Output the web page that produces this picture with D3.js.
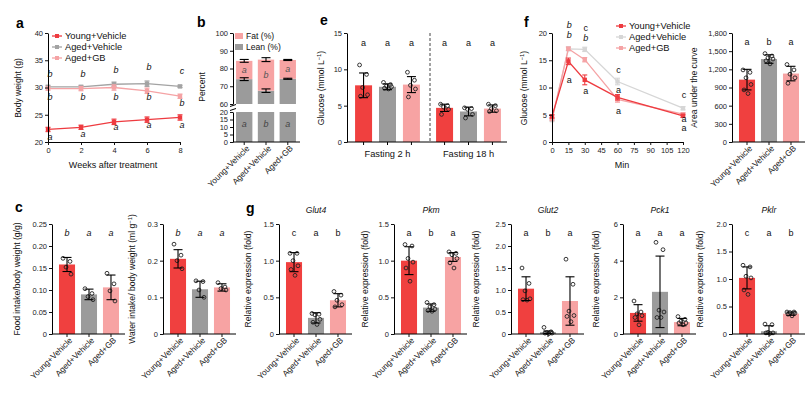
<!DOCTYPE html>
<html><head><meta charset="utf-8">
<script src="https://cdn.jsdelivr.net/npm/d3@7"></script>
<style>
body{margin:0;background:#fff}
svg{font-family:"Liberation Sans",Arial,sans-serif;color:#111}
.tick text{font-size:7.5px;fill:#222}
.lab{font-size:8.6px;fill:#111}
.let{font-size:9px;fill:#111}
.pl{font-size:14px;font-weight:bold;fill:#000}
</style></head><body>
<svg id="fig" width="812" height="394"></svg>
<script>
const groups = ["Young+Vehicle", "Aged+Vehicle", "Aged+GB"];
const colors = ["#f0403f", "#9b9b9b", "#f7a3a3"];
const lineColors = ["#ee3b40", "#a3a3a3", "#f5a3a5"];
const fColors = ["#ee3b40", "#d6d6d6", "#f5a3a5"];

// a: body weight
const weeks = [0, 2, 4, 6, 8];
const bwMean = [[22.3, 22.7, 23.7, 24.1, 24.5], [30.1, 30.1, 30.6, 30.7, 30.2], [29.8, 29.8, 30.0, 29.4, 28.4]];
const bwErr = [[0.4, 0.4, 0.5, 0.5, 0.5], [0.3, 0.3, 0.4, 0.5, 0.2], [0.3, 0.4, 0.5, 0.5, 0.4]];
const bwLetters = [
  {t: 0, v: 32.5, s: "b"}, {t: 2, v: 32.5, s: "b"}, {t: 4, v: 33.2, s: "b"}, {t: 6, v: 33.8, s: "b"}, {t: 8, v: 33.0, s: "c"},
  {t: 0, v: 28.3, s: "b"}, {t: 2, v: 28.3, s: "b"}, {t: 4, v: 28.3, s: "b"}, {t: 6, v: 28.3, s: "b"}, {t: 8, v: 27.2, s: "b"},
  {t: 0, v: 20.9, s: "a"}, {t: 2, v: 21.5, s: "a"}, {t: 4, v: 22.75, s: "a"}, {t: 6, v: 23.1, s: "a"}, {t: 8, v: 23.1, s: "a"}
];

// b: body composition
const leanMean = [74.0, 67.5, 74.2];
const leanErr = [0.8, 1.0, 0.3];
const totalMean = [84.3, 85.0, 84.8];
const totalErr = [0.8, 1.1, 0.3];
const bLetters = ["a", "b", "a"];

// e: fasting glucose
const fastGroups = ["Fasting 2 h", "Fasting 18 h"];
const fastMean = [[7.8, 7.6, 7.9], [4.7, 4.2, 4.6]];
const fastSd = [[1.7, 0.4, 1.1], [0.5, 0.6, 0.5]];
const fastPts = [
  [[10.6, 9.3, 7.5, 6.5, 6.3], [8.2, 7.9, 7.7, 7.6, 7.4, 7.3], [9.6, 8.5, 7.8, 7.3, 6.2]],
  [[5.2, 5.0, 4.8, 4.5, 3.8], [4.7, 4.6, 4.5, 3.8, 3.3], [5.2, 5.0, 4.6, 4.3, 4.2]]
];

// f: GTT
const gttMin = [0, 15, 30, 60, 120];
const gttMean = [[4.7, 14.8, 11.4, 8.2, 4.8], [4.0, 17.1, 17.0, 11.1, 6.2], [4.2, 17.1, 15.1, 7.8, 5.1]];
const gttErr = [[0.3, 0.6, 0.9, 0.5, 0.3], [0.2, 0.4, 0.4, 0.6, 0.3], [0.2, 0.3, 0.4, 0.5, 0.3]];
const gttLetters = [
  {t: 15, v: 21.5, s: "b"}, {t: 15, v: 19.6, s: "b"}, {t: 15, v: 11.4, s: "a"},
  {t: 30, v: 20.9, s: "c"}, {t: 30, v: 19.1, s: "b"}, {t: 30, v: 9.4, s: "a"},
  {t: 60, v: 13.2, s: "c"}, {t: 60, v: 9.6, s: "a"}, {t: 60, v: 5.7, s: "a"},
  {t: 120, v: 8.6, s: "c"}, {t: 120, v: 4.3, s: "a"}, {t: 120, v: 2.5, s: "a"}
];
const aucMean = [1030, 1370, 1130];
const aucSd = [170, 70, 120];
const aucPts = [[1190, 1150, 1060, 950, 860, 800], [1460, 1420, 1390, 1370, 1340, 1290], [1280, 1190, 1120, 1060, 970]];

// c: food / water intake
const foodMean = [0.158, 0.090, 0.106];
const foodSd = [0.016, 0.012, 0.028];
const foodPts = [[0.172, 0.165, 0.152, 0.136], [0.103, 0.092, 0.085, 0.078], [0.138, 0.114, 0.098, 0.075]];
const waterMean = [0.205, 0.122, 0.127];
const waterSd = [0.025, 0.022, 0.010];
const waterPts = [[0.245, 0.215, 0.20, 0.178], [0.145, 0.143, 0.12, 0.10], [0.14, 0.128, 0.124, 0.12]];

// g: gene expression
const genes = ["Glut4", "Pkm", "Glut2", "Pck1", "Pklr"];
const geneMean = [[0.98, 0.22, 0.46], [1.0, 0.36, 1.05], [1.03, 0.04, 0.75], [1.15, 2.3, 0.65], [1.02, 0.05, 0.37]];
const geneSd = [[0.13, 0.07, 0.09], [0.19, 0.05, 0.06], [0.27, 0.03, 0.55], [0.45, 1.95, 0.2], [0.2, 0.1, 0.03]];
const genePts = [
  [[1.1, 1.1, 1.0, 0.93, 0.88, 0.8], [0.28, 0.27, 0.26, 0.2, 0.16, 0.13], [0.58, 0.53, 0.46, 0.4, 0.37]],
  [[1.22, 1.2, 1.03, 0.98, 0.9, 0.72], [0.43, 0.4, 0.37, 0.34, 0.32, 0.31], [1.12, 1.1, 1.08, 1.03, 0.97, 0.9]],
  [[1.5, 1.15, 0.98, 0.8, 0.78, 0.77], [0.15, 0.05, 0.03, 0.02, 0.02, 0.01], [1.7, 1.13, 0.52, 0.42, 0.4, 0.28]],
  [[1.8, 1.2, 1.1, 1.0, 0.9, 0.5], [5.0, 4.6, 1.3, 1.2, 0.9, 0.9], [0.95, 0.8, 0.7, 0.6, 0.6, 0.5]],
  [[1.25, 1.22, 1.05, 1.02, 0.8, 0.72], [0.18, 0.17, 0.03, 0.02, 0.02, 0.01], [0.4, 0.4, 0.39, 0.38, 0.36, 0.33]]
];
const geneTicks = [[0, 0.5, 1.0, 1.5], [0, 0.5, 1.0, 1.5], [0, 0.5, 1.0, 1.5, 2.0, 2.5], [0, 2, 4, 6], [0, 0.5, 1.0, 1.5, 2.0]];
const geneLetters = [["c", "a", "b"], ["a", "b", "a"], ["a", "b", "a"], ["a", "a", "a"], ["c", "a", "b"]];

const svg = d3.select("#fig");
const jit = [-4, 3, -1, 4, -3, 1];
const f1 = d => d === 0 ? "0" : d3.format(".1f")(d);
const f2 = d => d === 0 ? "0" : d3.format(".2f")(d);

function yAxis(g, x, y, ticks, fmt) {
  g.append("g").attr("transform", `translate(${x},0)`)
    .call(d3.axisLeft(y).tickValues(ticks).tickFormat(fmt).tickSize(3).tickSizeOuter(0).tickPadding(2))
    .call(s => s.select(".domain").attr("stroke", "#000"));
}
function yLabel(g, x, cy, parts) {
  const t = g.append("text").attr("class", "lab").attr("text-anchor", "middle")
    .attr("transform", `translate(${x},${cy}) rotate(-90)`);
  parts.forEach(p => {
    const s = t.append("tspan").text(p[0]);
    if (p[1]) s.attr("font-size", "5.8px").attr("baseline-shift", "super");
  });
}
function panelLetter(x, y, s) {
  svg.append("text").attr("class", "pl").attr("x", x).attr("y", y).text(s);
}
function errBar(g, cx, y, lo, hi, w, col) {
  g.append("line").attr("x1", cx).attr("x2", cx).attr("y1", y(lo)).attr("y2", y(hi)).attr("stroke", col).attr("stroke-width", 1.1);
  [lo, hi].forEach(v => g.append("line").attr("x1", cx - w / 2).attr("x2", cx + w / 2)
    .attr("y1", y(v)).attr("y2", y(v)).attr("stroke", col).attr("stroke-width", 1.1));
}
function bars(g, xs, bw, y, means, sds, pts) {
  means.forEach((m, i) => {
    g.append("rect").attr("x", xs[i]).attr("width", bw).attr("y", y(m)).attr("height", y(0) - y(m)).attr("fill", colors[i]);
  });
  means.forEach((m, i) => {
    const cx = xs[i] + bw / 2;
    g.selectAll(null).data(pts[i]).join("circle")
      .attr("cx", (d, j) => cx + jit[j % jit.length]).attr("cy", d => y(d)).attr("r", 1.9)
      .attr("fill", "none").attr("stroke", "#222").attr("stroke-width", 0.9);
    errBar(g, cx, y, Math.max(0, m - sds[i]), m + sds[i], 9, "#000");
  });
}
function rotLabels(g, x, bottom) {
  g.append("g").attr("transform", `translate(0,${bottom})`)
    .call(d3.axisBottom(x).tickSize(3).tickSizeOuter(0))
    .call(s => s.select(".domain").remove())
    .call(s => s.selectAll(".tick text").attr("text-anchor", "end").style("font-size", "8.3px")
      .attr("dx", "-0.1em").attr("dy", "0.35em").attr("transform", "rotate(-45)"));
}
function barPanel(o) {
  const g = svg.append("g");
  const y = d3.scaleLinear().domain([0, o.yMax]).range([o.bottom, o.top]);
  const x = d3.scaleBand().domain(groups).range([o.ax + 4, o.ax + 70]).paddingInner(0.27).paddingOuter(0.136);
  bars(g, groups.map(k => x(k)), x.bandwidth(), y, o.means, o.sds, o.pts);
  yAxis(g, o.ax, y, o.ticks, o.fmt);
  g.append("line").attr("x1", o.ax).attr("x2", o.ax + 73).attr("y1", o.bottom).attr("y2", o.bottom).attr("stroke", "#000");
  rotLabels(g, x, o.bottom);
  g.selectAll(null).data(o.letters).join("text").attr("class", "let").attr("text-anchor", "middle")
    .attr("font-style", o.italic ? "italic" : null)
    .attr("x", (d, i) => x(groups[i]) + x.bandwidth() / 2).attr("y", o.top + 12).text(d => d);
  yLabel(g, o.ax - o.lx, (o.top + o.bottom) / 2, o.label);
  if (o.title) g.append("text").attr("class", "lab").attr("font-style", "italic").attr("text-anchor", "middle")
    .attr("x", o.ax + 37).attr("y", o.top - 11).text(o.title);
}

// ---- panel a
{
  const g = svg.append("g");
  const x = d3.scaleLinear().domain([0, 8]).range([48, 180]);
  const y = d3.scaleLinear().domain([20, 40]).range([142, 33]);
  const line = d3.line().x((d, i) => x(weeks[i])).y(d => y(d));
  [1, 2, 0].forEach(k => {
    g.append("path").attr("d", line(bwMean[k])).attr("fill", "none").attr("stroke", lineColors[k]).attr("stroke-width", 1.3);
    bwMean[k].forEach((m, i) => errBar(g, x(weeks[i]), y, m - bwErr[k][i], m + bwErr[k][i], 5, lineColors[k]));
    g.selectAll(null).data(bwMean[k]).join("rect").attr("x", (d, i) => x(weeks[i]) - 2.2).attr("y", d => y(d) - 2.2)
      .attr("width", 4.4).attr("height", 4.4).attr("fill", lineColors[k]);
  });
  yAxis(g, 48, y, [20, 25, 30, 35, 40], d3.format("d"));
  g.append("g").attr("transform", "translate(0,142)")
    .call(d3.axisBottom(x).tickValues(weeks).tickSize(3).tickSizeOuter(0))
    .call(s => s.select(".domain").attr("stroke", "#000"));
  g.selectAll(null).data(bwLetters).join("text").attr("class", "let").attr("font-style", "italic")
    .attr("text-anchor", "middle").attr("dominant-baseline", "central")
    .attr("x", d => x(d.t) + 2).attr("y", d => y(d.v)).text(d => d.s);
  g.append("text").attr("class", "lab").style("font-size", "9px").attr("text-anchor", "middle").attr("x", 113).attr("y", 168).text("Weeks after treatment");
  yLabel(g, 21, 88, [["Body weight (g)"]]);
  groups.forEach((s, i) => {
    const ly = 36 + i * 11;
    g.append("line").attr("x1", 52).attr("x2", 62).attr("y1", ly).attr("y2", ly).attr("stroke", lineColors[i]).attr("stroke-width", 1.3);
    g.append("rect").attr("x", 55).attr("y", ly - 2).attr("width", 4).attr("height", 4).attr("fill", lineColors[i]);
    g.append("text").attr("class", "lab").style("font-size", "9.3px").attr("x", 65).attr("y", ly + 3).text(s);
  });
  panelLetter(16, 28, "a");
}

// ---- panel b
{
  const g = svg.append("g");
  const ax = 233;
  const yT = d3.scaleLinear().domain([60, 100]).range([104, 33]);
  const yB = d3.scaleLinear().domain([0, 20]).range([142, 112]);
  const x = d3.scaleBand().domain(groups).range([ax, ax + 66]).paddingInner(0.25).paddingOuter(0.14);
  groups.forEach((k, i) => {
    const bx = x(k), bw = x.bandwidth(), cx = bx + bw / 2;
    g.append("rect").attr("x", bx).attr("width", bw).attr("y", yB(20)).attr("height", yB(0) - yB(20)).attr("fill", colors[1]);
    g.append("rect").attr("x", bx).attr("width", bw).attr("y", yT(leanMean[i])).attr("height", yT(60) - yT(leanMean[i])).attr("fill", colors[1]);
    g.append("rect").attr("x", bx).attr("width", bw).attr("y", yT(totalMean[i])).attr("height", yT(leanMean[i]) - yT(totalMean[i])).attr("fill", colors[2]);
    errBar(g, cx, yT, leanMean[i] - leanErr[i], leanMean[i] + leanErr[i], 9, "#000");
    errBar(g, cx, yT, totalMean[i] - totalErr[i], totalMean[i] + totalErr[i], 9, "#000");
    g.append("text").attr("class", "let").attr("font-style", "italic").attr("text-anchor", "middle").attr("dominant-baseline", "central")
      .attr("x", cx).attr("y", yT((leanMean[i] + totalMean[i]) / 2)).style("fill", "#555").text(bLetters[i]);
    g.append("text").attr("class", "let").attr("font-style", "italic").attr("text-anchor", "middle").attr("dominant-baseline", "central")
      .attr("x", cx).attr("y", yB(12)).style("fill", "#444").text(bLetters[i]);
  });
  yAxis(g, ax, yT, [60, 70, 80, 90, 100], d3.format("d"));
  yAxis(g, ax, yB, [0, 5, 10, 15, 20], d3.format("d"));
  g.append("line").attr("x1", ax).attr("x2", ax + 67).attr("y1", 142).attr("y2", 142).attr("stroke", "#000");
  g.append("rect").attr("x", ax - 3).attr("y", 105.5).attr("width", 70).attr("height", 4.5).attr("fill", "#fff");
  g.append("path").attr("d", `M${ax - 3},106.5 L${ax + 3},104.5 M${ax - 3},110.5 L${ax + 3},108.5`).attr("stroke", "#000").attr("fill", "none");
  rotLabels(g, x, 142);
  yLabel(g, 205, 87, [["Percent"]]);
  [["Fat (%)", colors[2]], ["Lean (%)", colors[1]]].forEach((d, i) => {
    g.append("rect").attr("x", 235).attr("y", 33 + i * 11).attr("width", 8).attr("height", 6).attr("fill", d[1]);
    g.append("text").attr("class", "lab").attr("x", 246).attr("y", 39 + i * 11).text(d[0]);
  });
  panelLetter(197, 27, "b");
}

// ---- panel e
{
  const g = svg.append("g");
  const ax = 347;
  const y = d3.scaleLinear().domain([0, 15]).range([142, 33]);
  const xo = d3.scaleBand().domain(fastGroups).range([ax, ax + 162]);
  const xi = d3.scaleBand().domain(groups).range([4, 77]).paddingInner(0.29).paddingOuter(0.17);
  fastGroups.forEach((fg, j) => {
    const xs = groups.map(k => xo(fg) + xi(k));
    bars(g, xs, xi.bandwidth(), y, fastMean[j], fastSd[j], fastPts[j]);
    xs.forEach(v => {
      const cx = v + xi.bandwidth() / 2;
      g.append("line").attr("x1", cx).attr("x2", cx).attr("y1", 142).attr("y2", 145).attr("stroke", "#000");
      g.append("text").attr("class", "let").attr("text-anchor", "middle").attr("x", cx).attr("y", y(15) + 13).text("a");
    });
    g.append("text").attr("class", "lab").style("font-size", "9.3px").attr("text-anchor", "middle")
      .attr("x", xo(fg) + xo.bandwidth() / 2).attr("y", 157).text(fg);
  });
  g.append("line").attr("x1", xo(fastGroups[1]) + 2).attr("x2", xo(fastGroups[1]) + 2).attr("y1", 33).attr("y2", 142)
    .attr("stroke", "#444").attr("stroke-dasharray", "3,2");
  yAxis(g, ax, y, [0, 5, 10, 15], d3.format("d"));
  g.append("line").attr("x1", ax).attr("x2", ax + 160).attr("y1", 142).attr("y2", 142).attr("stroke", "#000");
  yLabel(g, 324, 88, [["Glucose (mmol L"], ["−1", true], [")"]]);
  panelLetter(320, 25, "e");
}

// ---- panel f
{
  const g = svg.append("g");
  const x = d3.scaleLinear().domain([0, 120]).range([552, 683]);
  const y = d3.scaleLinear().domain([0, 20]).range([142, 33]);
  const line = d3.line().x((d, i) => x(gttMin[i])).y(d => y(d));
  [1, 2, 0].forEach(k => {
    g.append("path").attr("d", line(gttMean[k])).attr("fill", "none").attr("stroke", fColors[k]).attr("stroke-width", 1.3);
    gttMean[k].forEach((m, i) => errBar(g, x(gttMin[i]), y, m - gttErr[k][i], m + gttErr[k][i], 5, fColors[k]));
    g.selectAll(null).data(gttMean[k]).join("rect").attr("x", (d, i) => x(gttMin[i]) - 2.2).attr("y", d => y(d) - 2.2)
      .attr("width", 4.4).attr("height", 4.4).attr("fill", fColors[k]);
  });
  yAxis(g, 552, y, [0, 5, 10, 15, 20], d3.format("d"));
  g.append("g").attr("transform", "translate(0,142)")
    .call(d3.axisBottom(x).tickValues(d3.range(0, 121, 15)).tickSize(3).tickSizeOuter(0))
    .call(s => s.select(".domain").attr("stroke", "#000"));
  g.selectAll(null).data(gttLetters).join("text").attr("class", "let")
    .attr("font-style", d => d.s === "b" ? "italic" : null)
    .attr("text-anchor", "middle").attr("dominant-baseline", "central")
    .attr("x", d => x(d.t) + 1).attr("y", d => y(d.v)).text(d => d.s);
  g.append("text").attr("class", "lab").style("font-size", "9px").attr("text-anchor", "middle").attr("x", 622).attr("y", 168).text("Min");
  yLabel(g, 527, 88, [["Glucose (mmol L"], ["−1", true], [")"]]);
  groups.forEach((s, i) => {
    const ly = 26 + i * 11;
    g.append("line").attr("x1", 616).attr("x2", 626).attr("y1", ly).attr("y2", ly).attr("stroke", fColors[i]).attr("stroke-width", 1.3);
    g.append("rect").attr("x", 619).attr("y", ly - 2).attr("width", 4).attr("height", 4).attr("fill", fColors[i]);
    g.append("text").attr("class", "lab").style("font-size", "9.3px").attr("x", 629).attr("y", ly + 3).text(s);
  });
  panelLetter(524, 27, "f");
}

barPanel({ax: 732, top: 33, bottom: 142, yMax: 1800, ticks: d3.range(0, 1801, 300), fmt: d3.format(","),
  means: aucMean, sds: aucSd, pts: aucPts, letters: ["a", "b", "a"], label: [["Area under the curve"]], lx: 35});

// ---- panel c
barPanel({ax: 52, top: 224, bottom: 334, yMax: 0.25, ticks: [0, 0.05, 0.10, 0.15, 0.20, 0.25], fmt: f2,
  means: foodMean, sds: foodSd, pts: foodPts, letters: ["b", "a", "a"], italic: true,
  label: [["Food intake/body weight (g/g)"]], lx: 32});
barPanel({ax: 163, top: 224, bottom: 334, yMax: 0.3, ticks: [0, 0.1, 0.2, 0.3], fmt: f1,
  means: waterMean, sds: waterSd, pts: waterPts, letters: ["b", "a", "a"], italic: true,
  label: [["Water intake/ body weight (ml g"], ["−1", true], [")"]], lx: 28});
panelLetter(15, 212, "c");

// ---- panel g
const geneAx = [279, 394, 511, 623, 732];
const geneLx = [28, 26, 32, 24, 29];
genes.forEach((gn, i) => {
  const ticks = geneTicks[i];
  barPanel({ax: geneAx[i], top: 224, bottom: 334, yMax: ticks[ticks.length - 1], ticks,
    fmt: i === 3 ? d3.format("d") : f1,
    means: geneMean[i], sds: geneSd[i], pts: genePts[i], letters: geneLetters[i],
    label: [["Relative expression (fold)"]], lx: geneLx[i], title: gn});
});
panelLetter(246, 213, "g");
</script>
</body></html>
